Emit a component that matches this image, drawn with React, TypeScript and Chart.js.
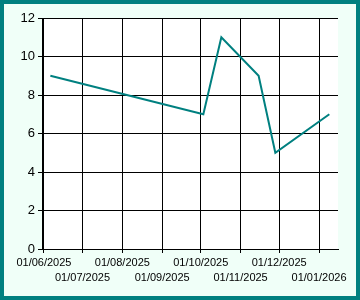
import React, { useEffect, useRef } from "react";
import { Chart, registerables } from "chart.js";

Chart.register(...registerables);

const pointDates = ["2025-06-06", "2025-10-03", "2025-10-17", "2025-11-15", "2025-11-28", "2026-01-09"];
const pointValues = [9, 7, 11, 9, 5, 7];
const tickDates = ["2025-06-01", "2025-07-01", "2025-08-01", "2025-09-01", "2025-10-01", "2025-11-01", "2025-12-01", "2026-01-01"];
const yTicks = [0, 2, 4, 6, 8, 10, 12];
const xMinDate = "2025-05-30T12:00:00Z";
const xMaxDate = "2026-01-15T18:00:00Z";

const TEAL = "#008080";

function fmt(v: number): string {
  const d = new Date(v);
  const dd = String(d.getUTCDate()).padStart(2, "0");
  const mm = String(d.getUTCMonth() + 1).padStart(2, "0");
  return `${dd}/${mm}/${d.getUTCFullYear()}`;
}

export default function App() {
  const ref = useRef<HTMLCanvasElement | null>(null);
  useEffect(() => {
    if (!ref.current) return;
    const bgPlugin = {
      id: "plotBg",
      beforeDraw(chart: any) {
        const { ctx, chartArea } = chart;
        ctx.save();
        ctx.fillStyle = "#ffffff";
        ctx.fillRect(chartArea.left, chartArea.top, chartArea.right - chartArea.left, chartArea.bottom - chartArea.top);
        ctx.restore();
      },
    };
    const chart = new Chart(ref.current, {
      type: "line",
      data: {
        datasets: [
          {
            data: pointDates.map((d, i) => ({ x: Date.parse(d), y: pointValues[i] })),
            borderColor: TEAL,
            borderWidth: 2,
            pointRadius: 0,
            tension: 0,
            fill: false,
          },
        ],
      },
      plugins: [bgPlugin],
      options: {
        animation: false,
        responsive: true,
        maintainAspectRatio: false,
        layout: { padding: { top: 14, right: 18, left: 0, bottom: 0 } },
        plugins: { legend: { display: false }, tooltip: { enabled: false } },
        scales: {
          x: {
            type: "linear",
            min: Date.parse(xMinDate),
            max: Date.parse(xMaxDate),
            afterBuildTicks: (axis: any) => {
              axis.ticks = tickDates.map((d) => ({ value: Date.parse(d) }));
            },
            afterFit: (axis: any) => {
              axis.height = 47;
            },
            grid: { color: "#000", lineWidth: 1, tickLength: 4, drawTicks: true },
            border: { display: true, color: "#000", width: 1 },
            ticks: {
              autoSkip: false,
              maxRotation: 0,
              minRotation: 0,
              padding: 2,
              color: "#000",
              font: { family: "'Liberation Sans', Arial, sans-serif", size: 11, lineHeight: "15px" },
              callback: (value: any, index: number) => {
                const s = fmt(Number(value));
                return index % 2 === 0 ? [s, ""] : ["", s];
              },
            },
          },
          y: {
            min: 0,
            max: 12,
            afterBuildTicks: (axis: any) => {
              axis.ticks = yTicks.map((v) => ({ value: v }));
            },
            afterFit: (axis: any) => {
              axis.width = 38;
            },
            grid: { color: "#000", lineWidth: 1, tickLength: 4 },
            border: { display: true, color: "#000", width: 1 },
            ticks: {
              padding: 3,
              color: "#000",
              font: { family: "'Liberation Sans', Arial, sans-serif", size: 13 },
            },
          },
        },
      },
    });
    return () => chart.destroy();
  }, []);

  return (
    <div
      style={{
        position: "fixed",
        left: 0,
        top: 0,
        width: 360,
        height: 300,
        boxSizing: "border-box",
        border: `4px solid ${TEAL}`,
        background: "#f0fff8",
      }}
    >
      <div style={{ position: "relative", width: 352, height: 292 }}>
        <canvas ref={ref} />
      </div>
    </div>
  );
}
